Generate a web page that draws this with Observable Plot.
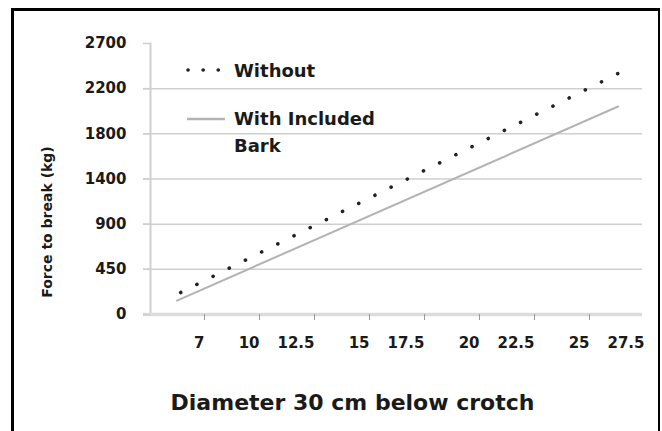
<!DOCTYPE html>
<html>
<head>
<meta charset="utf-8">
<script src="https://cdn.jsdelivr.net/npm/d3@7"></script>
<script src="https://cdn.jsdelivr.net/npm/@observablehq/plot@0.6"></script>
<style>
  html, body { margin: 0; padding: 0; background: #fff; overflow: hidden; }
  #wrap { position: relative; width: 662px; height: 431px; font-family: "DejaVu Sans", sans-serif; }
  #frame { position: absolute; left: 11px; top: 8px; width: 644px; height: 440px;
           border-top: 3px solid #000; border-left: 3px solid #000; border-right: 2px solid #000; }
  #legend { position: absolute; left: 184px; top: 57px; font-weight: bold; color: #1a1a1a; font-size: 18px; }
  .item { display: flex; align-items: flex-start; }
  .item svg { flex: none; }
  .item span { line-height: 27px; margin-left: 6px; }
</style>
</head>
<body>
<div id="wrap">
  <div id="chart"></div>
  <div id="frame"></div>
  <div id="legend"></div>
</div>
<script>
// ---- data ----
const xTickLabels = [7, 10, 12.5, 15, 17.5, 20, 22.5, 25, 27.5];
const yTickLabels = [0, 450, 900, 1400, 1800, 2200, 2700];
const seriesNames = ["Without", "With Included Bark"];
const withoutDiameter = [5.7, 26.3];
const withoutForce = [219, 2368];
const withDiameter = [5.5, 26.3];
const withForce = [139, 2042];

const withoutData = withoutDiameter.map((d, i) => ({diameter: d, force: withoutForce[i]}));
const withData = withDiameter.map((d, i) => ({diameter: d, force: withForce[i]}));

const ink = "#1a1a1a";
const gridColor = "#cfcfcf";

const chart = Plot.plot({
  width: 662,
  height: 431,
  marginLeft: 150,
  marginRight: 20,
  marginTop: 43,
  marginBottom: 117,
  style: {fontFamily: "DejaVu Sans, sans-serif", background: "transparent", overflow: "visible"},
  x: {type: "linear", domain: xTickLabels, range: xTickLabels.map((_, i) => 204 + i * 55), clamp: false},
  y: {type: "linear", domain: yTickLabels, range: yTickLabels.map((_, i) => 314 - i * 45.17), clamp: false},
  marks: [
    Plot.gridY(yTickLabels.filter(v => v > 0 && v < 2700), {stroke: gridColor, strokeOpacity: 1, strokeWidth: 1.5, insetLeft: -7}),
    Plot.frame({anchor: "left", stroke: gridColor, strokeWidth: 2}),
    Plot.ruleY([0], {stroke: "#dcdcdc", strokeWidth: 3.5, insetLeft: -7}),
    Plot.axisY({ticks: yTickLabels, tickSize: 7, tickPadding: 17, stroke: gridColor, strokeWidth: 1.5,
      fill: ink, fontSize: 15, fontWeight: "bold", label: null, tickFormat: d => String(d)}),
    Plot.axisX({ticks: xTickLabels.slice(0, 8), tickSize: 6, stroke: "#999", tickFormat: () => "", label: null}),
    Plot.axisX({ticks: xTickLabels, tickSize: 0, tickPadding: 23, textAnchor: "end",
      fill: ink, fontSize: 15, fontWeight: "bold", label: null, tickFormat: d => String(d)}),
    Plot.line(withData, {x: "diameter", y: "force", stroke: "#b3b3b3", strokeWidth: 2}),
    Plot.line(withoutData, {x: "diameter", y: "force", stroke: "#222", strokeWidth: 3.6,
      strokeLinecap: "round", strokeDasharray: "0.1,18"}),
    Plot.text(["Force to break (kg)"], {frameAnchor: "left", text: d => d, rotate: -90, dx: -103, dy: 43,
      fontSize: 14, fontWeight: "bold", fill: ink, textAnchor: "middle", lineAnchor: "middle"}),
    Plot.text(["Diameter 30 cm below crotch"], {frameAnchor: "bottom", text: d => d, dx: -44, dy: 88,
      fontSize: 22, fontWeight: "bold", fill: ink, textAnchor: "middle", lineAnchor: "middle"})
  ]
});
document.getElementById("chart").appendChild(chart);

// legend
const legend = document.getElementById("legend");
legend.innerHTML = `
  <div class="item">
    <svg width="44" height="27"><line x1="4" y1="13" x2="40" y2="13" stroke="#222" stroke-width="3.6" stroke-linecap="round" stroke-dasharray="0.1,15"/></svg>
    <span>${seriesNames[0]}</span>
  </div>
  <div class="item" style="margin-top:21px">
    <svg width="44" height="27"><line x1="3" y1="14" x2="41" y2="14" stroke="#b3b3b3" stroke-width="2.5"/></svg>
    <span>With Included<br>Bark</span>
  </div>`;
</script>
</body>
</html>
